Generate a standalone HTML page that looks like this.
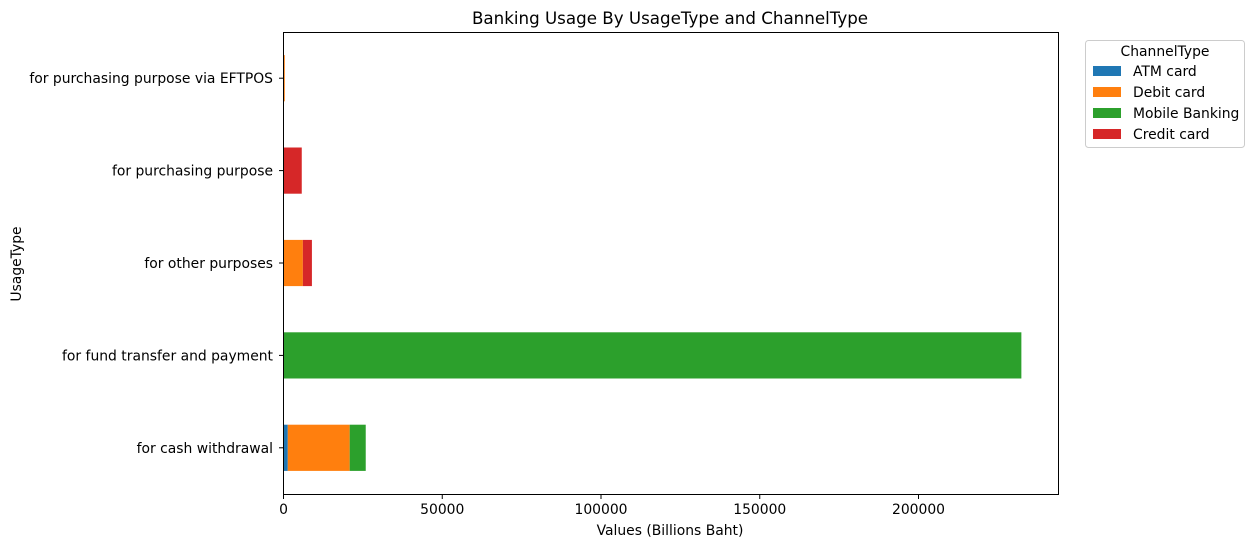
<!DOCTYPE html>
<html><head><meta charset="utf-8"><style>
body{margin:0;background:#fff;font-family:"Liberation Sans","DejaVu Sans",sans-serif;}
svg text{font-family:"DejaVu Sans","Liberation Sans",sans-serif;fill:#000;}
</style></head><body>
<svg id="chart" width="1254" height="547" xmlns="http://www.w3.org/2000/svg">
<text x="670" y="24" font-size="16.7" text-anchor="middle">Banking Usage By UsageType and ChannelType</text>
<g id="bars"></g>
<g id="axes"></g>
<rect x="283.5" y="32.5" width="775" height="462" fill="none" stroke="#000" stroke-width="1"/>
<text x="670" y="535" font-size="13.9" text-anchor="middle">Values (Billions Baht)</text>
<text x="21" y="264" font-size="13.9" text-anchor="middle" transform="rotate(-90 21 264)">UsageType</text>
<g id="legend">
<rect x="1085.5" y="40.5" width="159" height="107" rx="3" fill="#fff" stroke="#ccc"/>
<text x="1165" y="56" font-size="13.9" text-anchor="middle">ChannelType</text>
</g>
</svg>
<script>
const categories=["for cash withdrawal","for fund transfer and payment","for other purposes","for purchasing purpose","for purchasing purpose via EFTPOS"];
const seriesNames=["ATM card","Debit card","Mobile Banking","Credit card"];
const colors=["#1f77b4","#ff7f0e","#2ca02c","#d62728"];
const atmCard=[1350,0,0,0,0];
const debitCard=[19500,0,6100,0,400];
const mobileBanking=[5050,232400,0,0,0];
const creditCard=[0,0,2850,5750,0];
const xTicks=[0,50000,100000,150000,200000];
const series=[atmCard,debitCard,mobileBanking,creditCard];
const NS="http://www.w3.org/2000/svg";
const X0=283.5,PX=158.75/50000;
const xs=v=>X0+v*PX;
const ys=i=>494-(i+0.5)*92.4;
const bars=document.getElementById('bars'),axes=document.getElementById('axes'),legend=document.getElementById('legend');
function mk(t,a,p){const e=document.createElementNS(NS,t);for(const k in a)e.setAttribute(k,a[k]);p.appendChild(e);return e;}
categories.forEach((c,i)=>{
  let acc=0;
  series.forEach((s,j)=>{
    const v=s[i];if(v<=0)return;
    const r=mk('rect',{x:xs(acc),y:ys(i)-23.1,width:v*PX,height:46.2,fill:colors[j]},bars);
    
    
    acc+=v;
  });
  const t=mk('line',{x1:283.5,x2:279,y1:ys(i),y2:ys(i),stroke:'#000'},axes);
  
  
  const l=mk('text',{x:273,y:ys(i)+5,'font-size':13.9,'text-anchor':'end'},axes);
  l.textContent=c;
  
  
});
xTicks.forEach(v=>{
  const t=mk('line',{x1:xs(v),x2:xs(v),y1:494.5,y2:499,stroke:'#000'},axes);
  
  
  const l=mk('text',{x:xs(v),y:514,'font-size':13.9,'text-anchor':'middle'},axes);
  l.textContent=String(v);
  
  
});
seriesNames.forEach((n,j)=>{
  const y=66+j*21;
  const r=mk('rect',{x:1093,y:y,width:28,height:10,fill:colors[j]},legend);
  
  
  const t=mk('text',{x:1133,y:y+10,'font-size':13.9},legend);
  t.textContent=n;
  
  
});
</script>
</body></html>
